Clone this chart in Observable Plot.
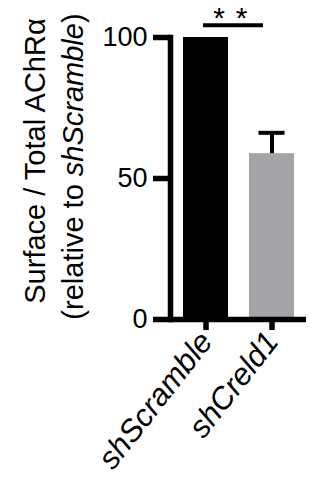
<!DOCTYPE html>
<html>
<head>
<meta charset="utf-8">
<script src="https://cdn.jsdelivr.net/npm/d3@7"></script>
<script src="https://cdn.jsdelivr.net/npm/@observablehq/plot@0.6"></script>
<style>
  html, body { margin: 0; padding: 0; background: #fff; }
  svg { overflow: visible; }
</style>
</head>
<body>
<div id="chart"></div>
<script>
// ---- data ----
const groups = ["shScramble", "shCreld1"];
const means = [100, 58.8];
const errors = [0, 7.4];
const barColors = ["#000000", "#a3a3a8"];
const yTicks = [0, 50, 100];
const sigStar = "*";
const sigLevel = 104.3;
const sigTextLevel = 103.5;
const yLabelLine1 = "Surface / Total AChRα";
const yLabelLine2 = ["(relative to ", "shScramble", ")"];

const data = groups.map((g, i) => ({group: g, mean: means[i], err: errors[i], top: means[i] + errors[i]}));
const errData = data.filter(d => d.err > 0);

const font = "'Liberation Sans', Arial, Helvetica, sans-serif";

const chart = Plot.plot({
  width: 321,
  height: 483,
  marginLeft: 170,
  marginRight: 15,
  marginTop: 37,
  marginBottom: 164,
  style: {fontFamily: font, background: "white", overflow: "visible", color: "black"},
  x: {domain: groups, paddingInner: 0.323, paddingOuter: 0.184, label: null},
  y: {domain: [0, 100], label: null},
  color: {domain: groups, range: barColors},
  marks: [
    Plot.barY(data, {x: "group", y: "mean", fill: "group"}),
    Plot.ruleX(errData, {x: "group", y1: "mean", y2: "top", strokeWidth: 4}),
    Plot.tickY(errData, {x: "group", y: "top", strokeWidth: 4, insetLeft: 9.5, insetRight: 9.5}),
    Plot.ruleY([0], {strokeWidth: 5.5}),
    Plot.frame({anchor: "left", strokeWidth: 5.5, strokeLinecap: "square"}),
    Plot.axisY(yTicks, {tickSize: 17, tickPadding: 6, strokeWidth: 5.5, fontSize: 27, label: null}),
    Plot.axisX({tickSize: 11, strokeWidth: 5.5, tickRotate: -52, fontSize: 31, fontStyle: "italic", label: null}),
    Plot.ruleY([sigLevel], {x1: () => groups[0], x2: () => groups[1], insetLeft: 20, insetRight: 31, strokeWidth: 4}),
    Plot.text([sigStar], {x: () => groups[0], y: () => sigTextLevel, text: d => d, dx: 13, lineAnchor: "bottom", fontSize: 30}),
    Plot.text([sigStar], {x: () => groups[0], y: () => sigTextLevel, text: d => d, dx: 35.5, lineAnchor: "bottom", fontSize: 30})
  ]
});

document.getElementById("chart").appendChild(chart);

// two-line rotated y label (second line partly italic)
const svg = d3.select(chart);
const lab = svg.append("g")
  .attr("font-family", font)
  .attr("font-size", 29)
  .attr("fill", "black")
  .attr("text-anchor", "middle");
lab.append("text")
  .attr("transform", "translate(45,161) rotate(-90)")
  .text(yLabelLine1);
const t2 = lab.append("text")
  .attr("transform", "translate(83,166.5) rotate(-90)");
t2.append("tspan").text(yLabelLine2[0]);
t2.append("tspan").attr("font-style", "italic").text(yLabelLine2[1]);
t2.append("tspan").text(yLabelLine2[2]);
</script>
</body>
</html>
